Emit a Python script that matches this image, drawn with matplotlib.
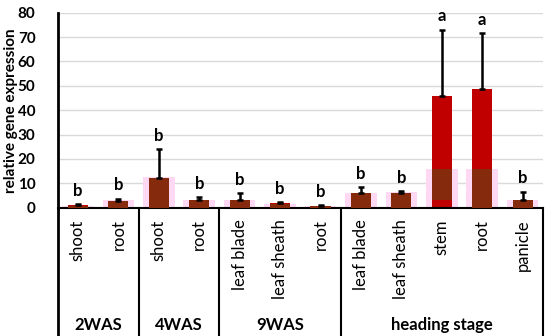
import numpy as np
import matplotlib
matplotlib.use('Agg')
import matplotlib.pyplot as plt

plt.rcParams['font.family'] = ['Lato', 'DejaVu Sans']

# 数据
tissues = ['shoot', 'root', 'shoot', 'root', 'leaf blade', 'leaf sheath', 'root',
           'leaf blade', 'leaf sheath', 'stem', 'root', 'panicle']
values = [1.0, 2.9, 12.0, 3.3, 3.0, 1.8, 0.7, 6.0, 6.0, 45.9, 48.9, 3.3]
errors = [0.5, 0.8, 12.0, 1.1, 3.0, 0.5, 0.4, 2.3, 0.8, 27.2, 22.7, 3.3]
letters = ['b', 'b', 'b', 'b', 'b', 'b', 'b', 'b', 'b', 'a', 'a', 'b']
# 背景里淡粉色的"影子"柱
ghost = [0.5, 3.0, 12.5, 3.0, 3.0, 1.5, 0.5, 6.0, 6.5, 16.0, 16.0, 3.0]
ghost_base = [0, 0, 0, 0, 0, 0, 0, 0, 0, 3.0, 0, 0]
groups = ['2WAS', '4WAS', '9WAS', 'heading stage']
group_sizes = [2, 2, 3, 5]

x = np.arange(len(tissues))

fig = plt.figure(figsize=(5.5, 3.36), dpi=100)
ax = fig.add_axes([0.105, 0.382, 0.882, 0.58])

ax.bar(x, ghost, width=0.78, color='#FFD8F4', zorder=1)
ax.bar(x, values, width=0.5, color='#C00000', zorder=2)
dark_top = np.minimum(values, ghost)
ax.bar(x, dark_top - np.array(ghost_base), bottom=ghost_base, width=0.5,
       color='#862A0E', zorder=3)
ax.errorbar(x, values, yerr=[np.zeros(len(x)), errors], fmt='none',
            ecolor='black', elinewidth=1.8, capsize=2.5, capthick=1.8, zorder=4)

for xi, v, e, l in zip(x, values, errors, letters):
    ax.text(xi, v + e + 2.2, l, ha='center', va='bottom', fontsize=12,
            fontweight='bold')

ax.set_xlim(-0.5, len(x) - 0.5)
ax.set_ylim(0, 80)
ax.set_yticks(range(0, 81, 10))
ax.yaxis.grid(True, color='#D9D9D9', linewidth=1)
ax.set_axisbelow(True)
ax.tick_params(axis='y', length=0, labelsize=11, pad=16)
for lab in ax.get_yticklabels():
    lab.set_fontweight('bold')
ax.set_xticks([])
ax.set_ylabel('relative gene expression', fontsize=11, fontweight='bold',
              va='center')
ax.yaxis.set_label_coords(-0.096, 0.5)

for s in ['top', 'right']:
    ax.spines[s].set_visible(False)
ax.spines['left'].set_linewidth(2)
ax.spines['bottom'].set_linewidth(1.5)

# 分类标签（x轴下方）
trans = ax.get_xaxis_transform()
for xi, t in zip(x, tissues):
    ax.text(xi, -0.06, t, transform=trans, rotation=90, ha='center', va='top',
            fontsize=12)

# 分组线和分组名称
bottom = -0.67
ax.plot([-0.5, -0.5], [0, bottom], transform=trans, color='black',
        linewidth=2, clip_on=False)
start = -0.5
for g, n in zip(groups, group_sizes):
    end = start + n
    ax.plot([end, end], [0, bottom], transform=trans, color='black',
            linewidth=1.5, clip_on=False)
    ax.text((start + end) / 2, -0.60, g, transform=trans, ha='center',
            va='center', fontsize=12, fontweight='bold')
    start = end

fig.savefig('out.png', dpi=100)
